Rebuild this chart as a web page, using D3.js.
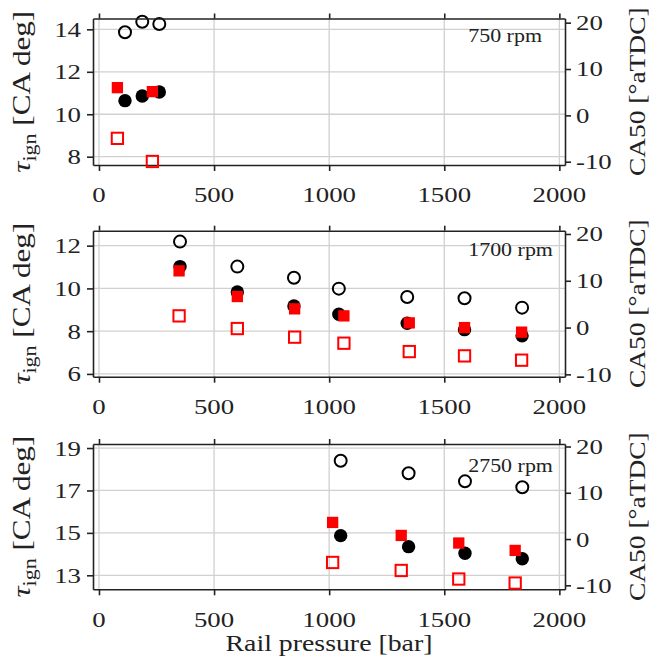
<!DOCTYPE html>
<html><head><meta charset="utf-8">
<script src="https://cdn.jsdelivr.net/npm/d3@7"></script>
<style>body{margin:0;background:#fff} svg{display:block}</style>
</head><body>
<script>
// ---------- data ----------
const xTicks = [0, 500, 1000, 1500, 2000];
const rightTicks = [-10, 0, 10, 20];
const speedLabels = ["750 rpm", "1700 rpm", "2750 rpm"];
const leftTicks750 = [8, 10, 12, 14];
const leftTicks1700 = [6, 8, 10, 12];
const leftTicks2750 = [13, 15, 17, 19];

// 750 rpm
const p750CircX = [113, 188, 262];
const p750TauOpen = [13.86, 14.36, 14.25];
const p750TauFilled = [10.64, 10.86, 11.05];
const p750SqX = [80, 232];
const p750CA50Filled = [5.98, 5.12];
const p750CA50Open = [-4.96, -9.95];

// 1700 rpm
const p1700CircX = [352, 601, 847, 1042, 1339, 1588, 1838];
const p1700TauOpen = [12.19, 11.02, 10.50, 9.99, 9.60, 9.54, 9.10];
const p1700TauFilled = [11.02, 9.83, 9.18, 8.79, 8.37, 8.07, 7.78];
const p1700SqX = [348, 601, 850, 1064, 1348, 1588, 1836];
const p1700CA50Filled = [12.12, 6.63, 4.0, 2.5, 1.0, 0.0, -0.98];
const p1700CA50Open = [2.5, -0.21, -2.05, -3.34, -5.13, -6.05, -6.97];

// 2750 rpm
const p2750CircX = [1050, 1345, 1590, 1839];
const p2750TauOpen = [18.40, 17.81, 17.43, 17.15];
const p2750TauFilled = [14.87, 14.35, 14.04, 13.78];
const p2750SqX = [1015, 1313, 1563, 1808];
const p2750CA50Filled = [3.59, 0.78, -0.86, -2.46];
const p2750CA50Open = [-5.06, -6.79, -8.64, -9.51];

// ---------- layout ----------
const W = 655, H = 671;
const X0 = 93, X1 = 565;
const SX = 1.22;              // horizontal text stretch to match reference font width
const FONT = "'Liberation Serif','Times New Roman',serif";
const INK = "#222";

const panels = [
  {top: 18.5, bottom: 165, left: [7.61, 14.51], right: [-10.71, 20.9], lt: leftTicks750,
   cx: p750CircX, to: p750TauOpen, tf: p750TauFilled, sx: p750SqX, cf: p750CA50Filled, co: p750CA50Open, annOff: 23.2},
  {top: 230.7, bottom: 376.7, left: [5.87, 12.70], right: [-10.5, 20.7], lt: leftTicks1700,
   cx: p1700CircX, to: p1700TauOpen, tf: p1700TauFilled, sx: p1700SqX, cf: p1700CA50Filled, co: p1700CA50Open, annOff: 25},
  {top: 444, bottom: 589.3, left: [12.34, 19.19], right: [-10.86, 20.54], lt: leftTicks2750,
   cx: p2750CircX, to: p2750TauOpen, tf: p2750TauFilled, sx: p2750SqX, cf: p2750CA50Filled, co: p2750CA50Open, annOff: 27.7}
];

const svg = d3.select("body").append("svg").attr("width", W).attr("height", H)
  .attr("font-family", FONT);

const x = d3.scaleLinear().domain([-26, 2024.5]).range([X0, X1]);

function txt(parent, px, py, str, o = {}) {
  const g = parent.append("g")
    .attr("transform", `translate(${px},${py}) rotate(${o.rot || 0}) scale(${SX},1)`);
  const t = g.append("text")
    .attr("text-anchor", o.anchor || "middle")
    .attr("font-size", o.size || 22)
    .attr("fill", INK);
  if (o.dy) t.attr("dy", o.dy);
  if (str != null) t.text(str);
  return t;
}

panels.forEach((p, i) => {
  const yL = d3.scaleLinear().domain(p.left).range([p.bottom, p.top]);
  const yR = d3.scaleLinear().domain(p.right).range([p.bottom, p.top]);
  const g = svg.append("g");

  // grid
  g.append("g").selectAll("line").data(xTicks).join("line")
    .attr("x1", d => x(d)).attr("x2", d => x(d)).attr("y1", p.top).attr("y2", p.bottom)
    .attr("stroke", "#d0d0d0").attr("stroke-width", 1.3);
  g.append("g").selectAll("line").data(p.lt).join("line")
    .attr("x1", X0).attr("x2", X1).attr("y1", d => yL(d)).attr("y2", d => yL(d))
    .attr("stroke", "#d0d0d0").attr("stroke-width", 1.3);

  // circles (left axis)
  const circ = p.cx.map((v, k) => ({x: v, o: p.to[k], f: p.tf[k]}));
  g.append("g").selectAll("circle").data(circ).join("circle")
    .attr("cx", d => x(d.x)).attr("cy", d => yL(d.o)).attr("r", 6)
    .attr("fill", "none").attr("stroke", "#000").attr("stroke-width", 2);
  g.append("g").selectAll("circle").data(circ).join("circle")
    .attr("cx", d => x(d.x)).attr("cy", d => yL(d.f)).attr("r", 6.7)
    .attr("fill", "#000");

  // axes (ticks + spines)
  const axStyle = sel => {
    sel.selectAll(".domain").attr("stroke", INK).attr("stroke-width", 1.6);
    sel.selectAll(".tick line").attr("stroke", INK).attr("stroke-width", 1.6);
    sel.selectAll(".tick text").remove();
  };
  g.append("g").attr("transform", `translate(0,${p.bottom})`)
    .call(d3.axisBottom(x).tickValues(xTicks).tickSize(6).tickSizeOuter(0).tickFormat(""))
    .call(axStyle);
  g.append("g").attr("transform", `translate(0,${p.top})`)
    .call(d3.axisTop(x).tickValues(xTicks).tickSize(5).tickSizeOuter(0).tickFormat(""))
    .call(axStyle);
  g.append("g").attr("transform", `translate(${X0},0)`)
    .call(d3.axisLeft(yL).tickValues(p.lt).tickSize(6).tickSizeOuter(0).tickFormat(""))
    .call(axStyle);
  g.append("g").attr("transform", `translate(${X1},0)`)
    .call(d3.axisRight(yR).tickValues(rightTicks).tickSize(6).tickSizeOuter(0).tickFormat(""))
    .call(axStyle);

  // squares (right axis)
  const sq = p.sx.map((v, k) => ({x: v, f: p.cf[k], o: p.co[k]}));
  const s1 = 11.3;
  g.append("g").selectAll("rect").data(sq).join("rect")
    .attr("x", d => x(d.x) - s1 / 2).attr("y", d => yR(d.f) - s1 / 2)
    .attr("width", s1).attr("height", s1).attr("fill", "#ff0000");
  g.append("g").selectAll("rect").data(sq).join("rect")
    .attr("x", d => x(d.x) - s1 / 2).attr("y", d => yR(d.o) - s1 / 2)
    .attr("width", s1).attr("height", s1).attr("fill", "none")
    .attr("stroke", "#ff0000").attr("stroke-width", 2);

  // tick labels
  xTicks.forEach(v => txt(g, x(v), p.bottom + 37.3, String(v)));
  p.lt.forEach(v => txt(g, 81, yL(v), String(v), {anchor: "end", dy: "0.34em"}));
  rightTicks.forEach(v => txt(g, 576, yR(v), String(v), {anchor: "start", dy: "0.34em"}));

  // annotation
  txt(g, x(1604), p.top + p.annOff, speedLabels[i], {anchor: "start", size: 18});

  // axis labels
  const cy = (p.top + p.bottom) / 2;
  const tl = txt(g, 29.5, cy, null, {rot: -90, size: 25.5});
  tl.append("tspan").attr("font-style", "italic").text("τ");
  tl.append("tspan").attr("font-size", 18).attr("dy", 6.5).text("ign");
  tl.append("tspan").attr("dy", -6.5).text(" [CA deg]");
  txt(g, 645, cy, "CA50 [°aTDC]", {rot: -90, size: 22.5});
});

txt(svg, (X0 + X1) / 2, 651, "Rail pressure [bar]", {size: 22.8});
</script>
</body></html>
